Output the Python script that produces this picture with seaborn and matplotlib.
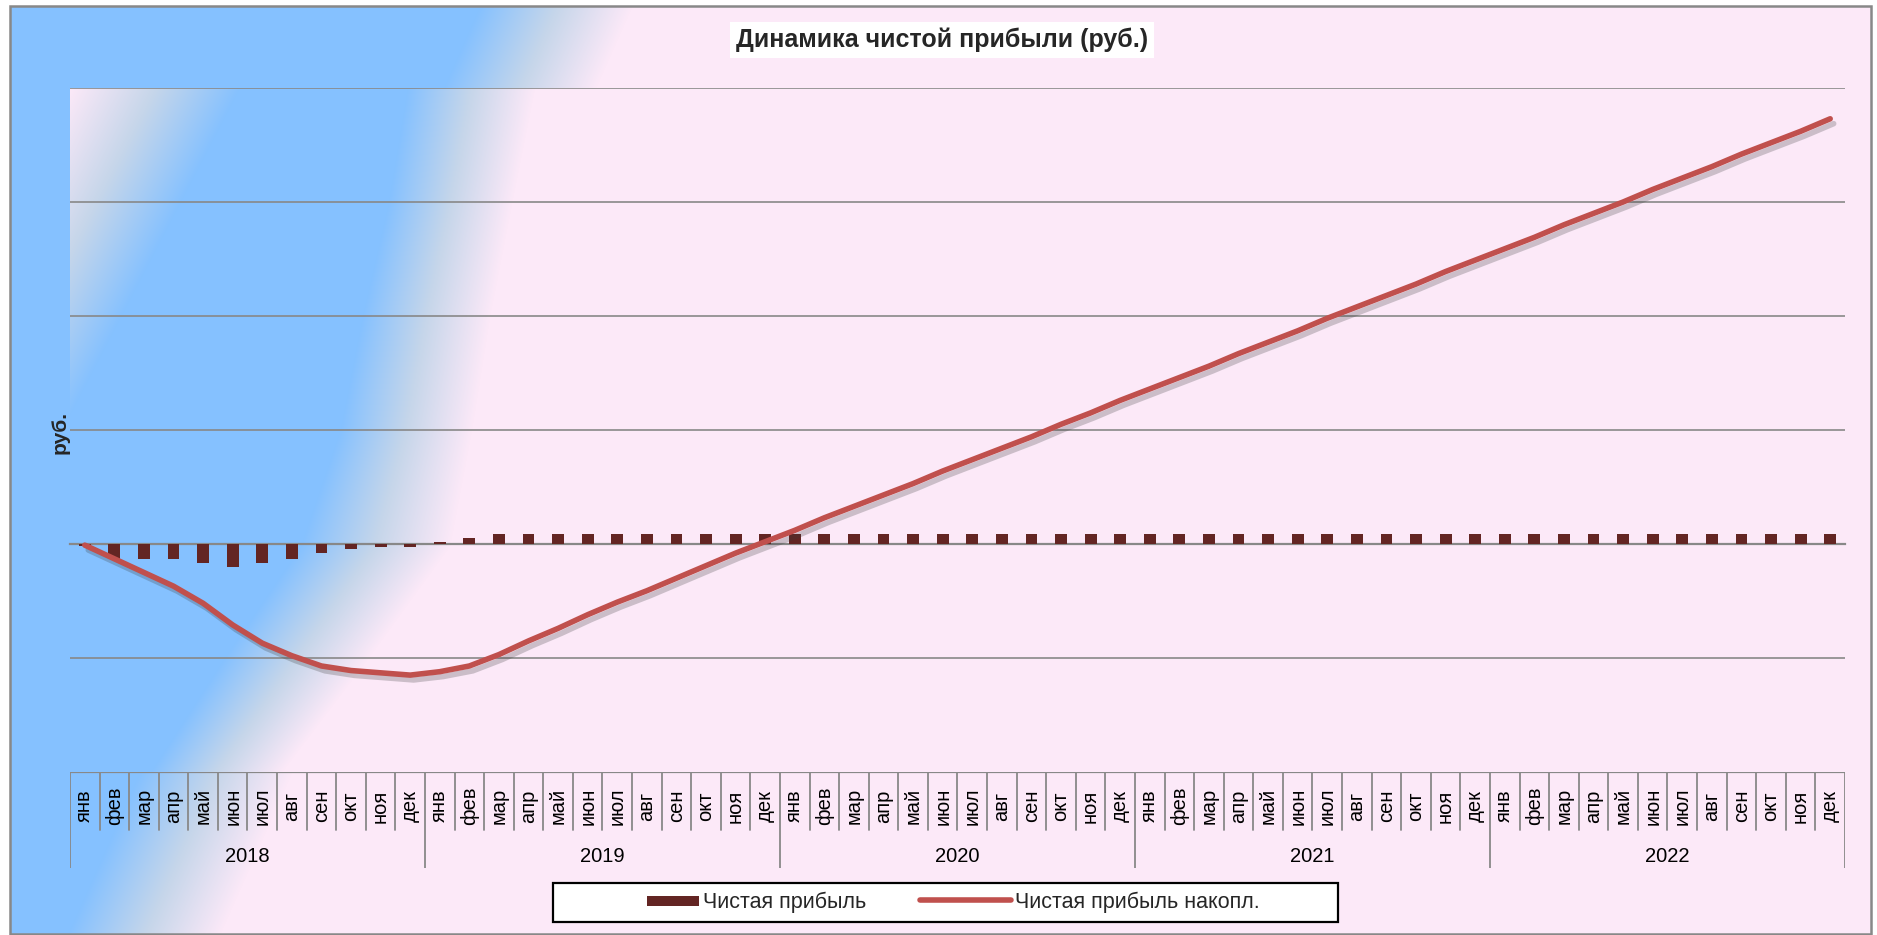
import numpy as np
import pandas as pd
import matplotlib
matplotlib.use('Agg')
import matplotlib.pyplot as plt
import matplotlib.patheffects as pe
from matplotlib.patches import Patch, Rectangle
from matplotlib.lines import Line2D
from matplotlib.legend_handler import HandlerPatch
import seaborn as sns

# --- данные (условные единицы шкалы, ось Y без подписей) ---
MONTHS = ['янв', 'фев', 'мар', 'апр', 'май', 'июн',
          'июл', 'авг', 'сен', 'окт', 'ноя', 'дек']
YEARS = ['2018', '2019', '2020', '2021', '2022']

PROFIT_2018 = [-0.02, -0.13, -0.13, -0.13, -0.165, -0.20,
               -0.165, -0.13, -0.08, -0.045, -0.025, -0.025]
PROFIT_2019 = [0.02, 0.052, 0.089, 0.089, 0.089, 0.089,
               0.089, 0.089, 0.089, 0.089, 0.089, 0.089]
PROFIT_2020 = [0.089, 0.089, 0.089, 0.089, 0.089, 0.089,
               0.089, 0.089, 0.089, 0.089, 0.089, 0.089]
PROFIT_2021 = [0.089, 0.089, 0.089, 0.089, 0.089, 0.089,
               0.089, 0.089, 0.089, 0.089, 0.089, 0.089]
PROFIT_2022 = [0.089, 0.089, 0.089, 0.089, 0.089, 0.089,
               0.089, 0.089, 0.089, 0.089, 0.089, 0.089]

CUM_2018 = [-0.01, -0.13, -0.25, -0.37, -0.52, -0.71,
            -0.87, -0.98, -1.07, -1.11, -1.13, -1.15]
CUM_2019 = [-1.12, -1.07, -0.97, -0.85, -0.74, -0.62,
            -0.51, -0.41, -0.30, -0.19, -0.08, 0.02]
CUM_2020 = [0.12, 0.23, 0.33, 0.43, 0.53, 0.64,
            0.74, 0.84, 0.94, 1.05, 1.15, 1.26]
CUM_2021 = [1.36, 1.46, 1.56, 1.67, 1.77, 1.87,
            1.98, 2.08, 2.18, 2.28, 2.39, 2.49]
CUM_2022 = [2.59, 2.69, 2.80, 2.90, 3.00, 3.11,
            3.21, 3.31, 3.42, 3.52, 3.62, 3.73]

TITLE = 'Динамика чистой прибыли (руб.)'
YLABEL = 'руб.'
LEG_BAR = 'Чистая прибыль'
LEG_LINE = 'Чистая прибыль накопл.'

BAR_COLOR = '#632523'
LINE_COLOR = '#C0504D'
GRID_COLOR = '#888888'
BLUE = np.array([133, 193, 255]) / 255
MID = np.array([198, 214, 234]) / 255
PINK = np.array([252, 233, 248]) / 255

W, H = 1877, 935
PL, PR, PT, PB = 70, 1845, 88, 772   # область построения, px
CB = 868                              # низ блока подписей

# границы голубой полосы внутри области построения (по строкам, px)
BAND_Y = [88, 203, 316, 429, 546, 656, 772]
BAND_BLUE_END = [407, 388, 362, 340, 300, 225, 150]
BAND_PINK_START = [535, 512, 490, 472, 450, 370, 282]


def gradient(s, stops, colors):
    out = np.zeros(np.shape(s) + (3,))
    for c in range(3):
        out[..., c] = np.interp(s, stops, [col[c] for col in colors])
    return out


def inner_gradient():
    xs = np.arange(PL, PR)
    rows = []
    for y in range(PT, PB):
        left0 = 70 - 0.52 * (y - PT)
        left1 = 240 - 0.52 * (y - PT)
        b_end = np.interp(y, BAND_Y, BAND_BLUE_END)
        p_start = np.interp(y, BAND_Y, BAND_PINK_START)
        stops = [left0, (left0 + left1) / 2, left1, b_end,
                 (b_end + p_start) / 2, p_start]
        rows.append(gradient(xs, stops, [PINK, MID, BLUE, BLUE, MID, PINK]))
    return np.stack(rows)


def make_bar_handle(legend, orig_handle, xdescent, ydescent, width, height, fontsize):
    w = 37.0
    return Rectangle((width - w - xdescent, -ydescent + height * 0.12), w, height * 0.65)


def main():
    profit = PROFIT_2018 + PROFIT_2019 + PROFIT_2020 + PROFIT_2021 + PROFIT_2022
    cum = CUM_2018 + CUM_2019 + CUM_2020 + CUM_2021 + CUM_2022
    n = len(profit)
    df = pd.DataFrame({'idx': np.arange(n), 'profit': profit, 'cum': cum})

    sns.set_theme(style='white')
    plt.rcParams['font.family'] = ['Liberation Sans', 'DejaVu Sans']

    fig = plt.figure(figsize=(W / 100, H / 100), dpi=100)

    # фон: внешний градиент + градиент области построения
    bg = fig.add_axes([0, 0, 1, 1])
    yy, xx = np.mgrid[0:H, 0:W]
    outer = gradient(xx + 0.444 * yy, [482, 560, 635], [BLUE, MID, PINK])
    outside = (xx < 10) | (yy < 6) | (xx > 1871)
    outer[outside] = 1.0
    bg.imshow(outer, extent=(0, W, H, 0), aspect='auto', interpolation='bilinear')
    bg.imshow(inner_gradient(), extent=(PL, PR, PB, PT), aspect='auto',
              interpolation='bilinear')
    bg.add_patch(Rectangle((10, 6), 1861, 928, fill=False, edgecolor=GRID_COLOR, lw=1.8))
    # рамка легенды
    bg.add_patch(Rectangle((553, 883), 785, 39, facecolor='white',
                           edgecolor='black', lw=1.6))
    bg.set_xlim(0, W)
    bg.set_ylim(H, 0)
    bg.axis('off')

    # основная область
    ax = fig.add_axes([PL / W, 1 - PB / H, (PR - PL) / W, (PB - PT) / H])
    ax.patch.set_alpha(0)

    sns.barplot(data=df, x='idx', y='profit', color=BAR_COLOR, saturation=1,
                width=0.4, errorbar=None, linewidth=0, edgecolor='none',
                ax=ax, zorder=3)
    sns.lineplot(data=df, x='idx', y='cum', color=LINE_COLOR, lw=4,
                 ax=ax, zorder=4, legend=False)
    line = ax.lines[-1]
    line.set_solid_capstyle('round')
    line.set_path_effects([
        pe.SimpleLineShadow(offset=(2.5, -3.5), shadow_color='#3a3a3a', alpha=0.25),
        pe.Normal()])

    ax.set_xlim(-0.5, n - 0.5)
    ax.set_ylim(-2, 4)
    ax.set_yticks([-1, 0, 1, 2, 3, 4])
    ax.yaxis.grid(True, color=GRID_COLOR, lw=1.2)
    ax.set_axisbelow(True)
    ax.tick_params(axis='y', length=0, labelleft=False)
    ax.set_xticks(np.arange(-0.5, n, 1))
    ax.tick_params(axis='x', direction='out', length=4.5, width=1.3,
                   color=GRID_COLOR, labelbottom=False)
    for side in ['top', 'right', 'left']:
        ax.spines[side].set_visible(False)
    ax.spines['bottom'].set_position(('data', 0))
    ax.spines['bottom'].set_color(GRID_COLOR)
    ax.spines['bottom'].set_linewidth(1.6)
    ax.set_xlabel('')
    ax.set_ylabel('')

    # блок подписей категорий: месяцы + годы
    cax = fig.add_axes([PL / W, 1 - CB / H, (PR - PL) / W, (CB - PB) / H])
    cax.patch.set_alpha(0)
    cax.set_xlim(-0.5, n - 0.5)
    cax.set_ylim(0, 1)
    cax.axis('off')
    cax.axhline(1, color=GRID_COLOR, lw=1.6)
    month_bottom = (CB - 830) / (CB - PB)
    for i in range(n + 1):
        y0 = 0 if i % 12 == 0 else month_bottom
        cax.plot([i - 0.5, i - 0.5], [y0, 1], color=GRID_COLOR, lw=1.3)
    for i in range(n):
        cax.text(i, (CB - 806) / (CB - PB), MONTHS[i % 12], rotation=90,
                 ha='center', va='center', fontsize=14.5, color='black')
    for k, year in enumerate(YEARS):
        cax.text(k * 12 + 5.5, (CB - 856) / (CB - PB), year,
                 ha='center', va='center', fontsize=14.5, color='black')

    # заголовок и подпись оси
    fig.text(942 / W, 1 - 40 / H, TITLE, ha='center', va='center',
             fontsize=18, fontweight='bold',
             bbox=dict(facecolor='white', edgecolor='none', pad=4))
    fig.text(60 / W, 1 - 432 / H, YLABEL, rotation=90, ha='center', va='center',
             fontsize=15, fontweight='bold')

    handles = [Patch(facecolor=BAR_COLOR, edgecolor='none'),
               Line2D([0], [0], color=LINE_COLOR, lw=4, solid_capstyle='round')]
    fig.legend(handles, [LEG_BAR, LEG_LINE], ncol=2, loc='center',
               bbox_to_anchor=(934 / W, 1 - 902 / H), fontsize=15.5,
               frameon=False, handlelength=4.2, handletextpad=0.2,
               columnspacing=2.5,
               handler_map={Patch: HandlerPatch(patch_func=make_bar_handle)})

    fig.savefig('out.png', dpi=100)
    plt.close(fig)


if __name__ == '__main__':
    main()
